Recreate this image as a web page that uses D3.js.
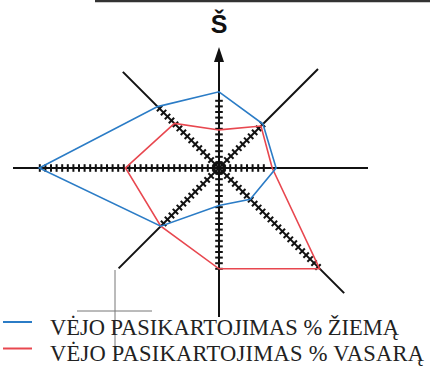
<!DOCTYPE html>
<html>
<head>
<meta charset="utf-8">
<script src="https://cdn.jsdelivr.net/npm/d3@7"></script>
<style>
  body { margin: 0; background: #fff; }
</style>
</head>
<body>
<div id="chartContainer"></div>
<script>
// directions, clockwise from north
var directions = ["Š", "ŠR", "R", "PR", "P", "PV", "V", "ŠV"];
// wind frequency, in tick units
var winter = [13.6, 11.1, 10.2, 7.9, 6.7, 14.7, 32.1, 15.5];
var summer = [6.8, 10.6, 9.5, 25.4, 18.0, 14.7, 16.7, 11.25];
// number of cross ticks drawn on each ray
var tickCount = [12, 11, 8, 25, 18, 14, 32, 15];
var legendLabels = ["VĖJO PASIKARTOJIMAS % ŽIEMĄ", "VĖJO PASIKARTOJIMAS % VASARĄ"];

var width = 430, height = 370;
var cx = 219, cy = 168;
// how far each ray is drawn (px)
var rayLen = [121, 140, 149, 177, 149, 142, 206, 136];

var svg = d3.select("#chartContainer").append("svg")
  .attr("width", width).attr("height", height);

var r = d3.scaleLinear().domain([0, 1]).range([0, 5.6]);
var angle = d3.scalePoint().domain(directions).range([0, 2 * Math.PI * 7 / 8]);

var g = svg.append("g").attr("transform", "translate(" + cx + "," + cy + ")");

// scan edge at top
svg.append("line").attr("x1", 95).attr("x2", 430).attr("y1", 1).attr("y2", 1)
  .attr("stroke", "#333").attr("stroke-width", 2.5);

// stray pencil marks lower left
svg.append("line").attr("x1", 115).attr("x2", 115).attr("y1", 270).attr("y2", 353)
  .attr("stroke", "#777").attr("stroke-width", 1);
svg.append("line").attr("x1", 77).attr("x2", 152).attr("y1", 311).attr("y2", 311)
  .attr("stroke", "#777").attr("stroke-width", 1);

// rays
directions.forEach(function(d, i) {
  var a = angle(d);
  var len = i === 0 ? rayLen[i] - 10 : rayLen[i];
  var end = d3.pointRadial(a, len);
  g.append("line").attr("x1", 0).attr("y1", 0)
    .attr("x2", end[0]).attr("y2", end[1])
    .attr("stroke", "#111").attr("stroke-width", 2);
});

// cross ticks
directions.forEach(function(d, i) {
  var a = angle(d);
  var ux = Math.sin(a), uy = -Math.cos(a);
  d3.range(1, tickCount[i] + 1).forEach(function(k) {
    var p = d3.pointRadial(a, r(k));
    g.append("line")
      .attr("x1", p[0] - uy * 3.8).attr("y1", p[1] + ux * 3.8)
      .attr("x2", p[0] + uy * 3.8).attr("y2", p[1] - ux * 3.8)
      .attr("stroke", "#111").attr("stroke-width", 2);
  });
});

// centre blob
g.append("circle").attr("r", 5).attr("fill", "none")
  .attr("stroke", "#111").attr("stroke-width", 3);

// arrow head on north
var tip = rayLen[0];
g.append("path")
  .attr("d", "M0," + (-tip) + "L-5," + (-tip + 15) + "L5," + (-tip + 15) + "Z")
  .attr("fill", "#111");

// north label
svg.append("text").attr("x", cx).attr("y", 33)
  .attr("text-anchor", "middle")
  .attr("font-family", "Liberation Sans")
  .attr("font-weight", "bold").attr("font-size", 25)
  .attr("fill", "#111")
  .text(directions[0]);

// series polygons
var line = d3.lineRadial()
  .angle(function(d, i) { return angle(directions[i]); })
  .radius(function(d) { return r(d); })
  .curve(d3.curveLinearClosed);

g.append("path").datum(summer).attr("d", line)
  .attr("fill", "none").attr("stroke", "#e8474f").attr("stroke-width", 1.6);
g.append("path").datum(winter).attr("d", line)
  .attr("fill", "none").attr("stroke", "#2b7cc6").attr("stroke-width", 1.6);

// legend
var legColors = ["#2b7cc6", "#e8474f"];
var legY = [322, 348.5];
var legW = [349, 374];
legendLabels.forEach(function(d, i) {
  svg.append("line").attr("x1", 3).attr("x2", 32).attr("y1", legY[i]).attr("y2", legY[i])
    .attr("stroke", legColors[i]).attr("stroke-width", 2);
  svg.append("text").attr("x", 50).attr("y", legY[i] + 12.5)
    .attr("font-family", "Liberation Serif")
    .attr("font-size", 22.5)
    .attr("fill", "#222")
    .attr("textLength", legW[i])
    .attr("lengthAdjust", "spacing")
    .text(d);
});
</script>
</body>
</html>
